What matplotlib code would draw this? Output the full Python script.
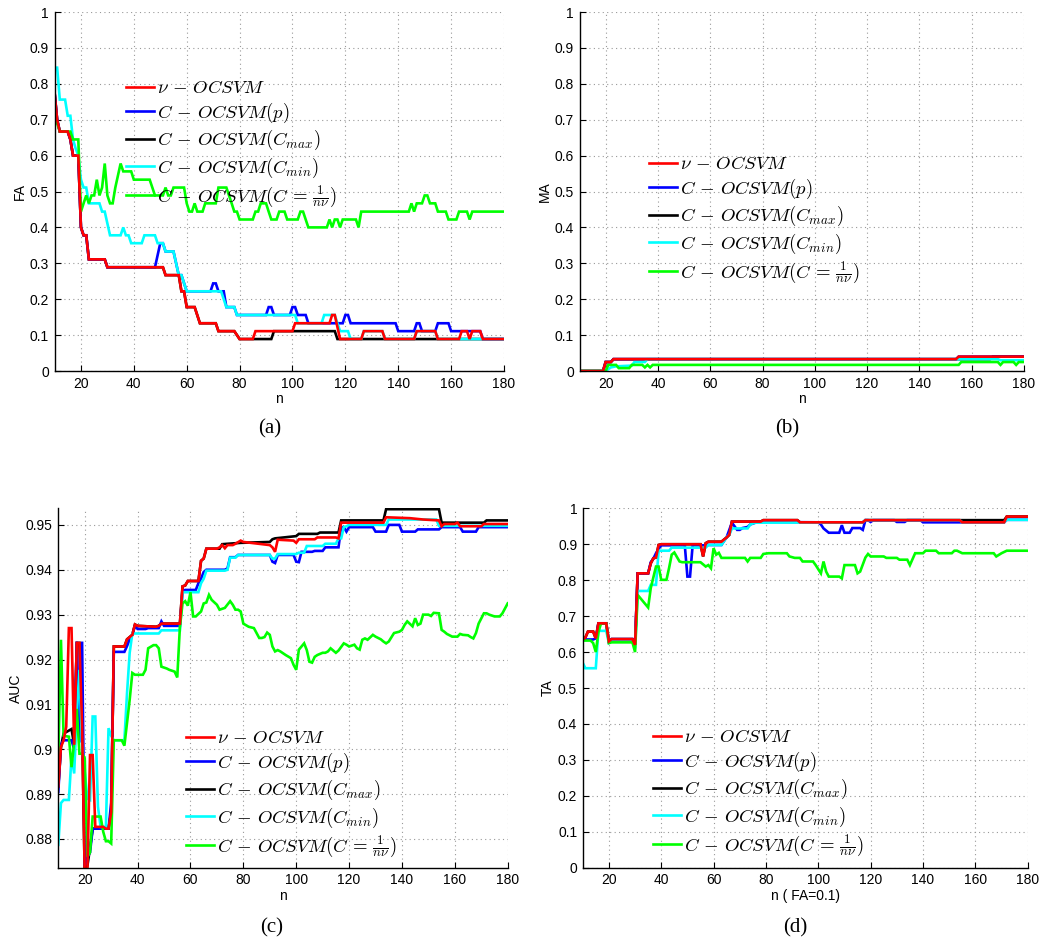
import matplotlib
matplotlib.use('Agg')
import matplotlib.pyplot as plt
from matplotlib.ticker import FuncFormatter

plt.rcParams['mathtext.fontset'] = 'cm'
plt.rcParams['font.family'] = ['Liberation Sans', 'DejaVu Sans']

# ---------------- data (n, value) ----------------
LABELS = [r'$\nu\,-\,OCSVM$', r'$C\,-\,OCSVM(p)$', r'$C\,-\,OCSVM(C_{max})$',
          r'$C\,-\,OCSVM(C_{min})$', r'$C\,-\,OCSVM(C\,=\,\frac{1}{n\nu})$']
COLORS = ['#ff0000', '#0000ff', '#000000', '#00ffff', '#00ff00']
X_TICKS = [20, 40, 60, 80, 100, 120, 140, 160, 180]

# (a) FA
FA_NU = [(10, .778), (11, .70), (12, .667), (15, .667), (16, .645), (17, .60), (19, .60), (20, .40),
         (21, .378), (22, .378), (23, .311), (29, .311), (30, .289), (51, .289), (52, .267), (57, .267),
         (58, .222), (59, .222), (60, .178), (63, .178), (65, .133), (71, .133), (72, .111), (78, .111),
         (80, .089), (85, .089), (86, .111), (100, .111), (101, .133), (114, .133), (115, .156), (116, .156),
         (118, .089), (126, .089), (127, .111), (134, .111), (135, .089), (146, .089), (147, .111), (154, .111),
         (155, .089), (163, .089), (164, .111), (166, .111), (167, .089), (168, .111), (171, .111), (172, .089),
         (180, .089)]
FA_P = [(10, .778), (11, .70), (12, .667), (15, .667), (16, .645), (17, .60), (19, .60), (20, .40),
        (21, .378), (22, .378), (23, .311), (29, .311), (30, .289), (48, .289), (50, .356), (51, .356),
        (52, .333), (55, .333), (57, .267), (58, .267), (60, .222), (69, .222), (70, .244), (71, .244),
        (72, .222), (74, .222), (75, .178), (78, .178), (79, .156), (90, .156), (91, .178), (92, .178),
        (93, .156), (99, .156), (100, .178), (101, .178), (102, .156), (105, .156), (106, .133), (119, .133),
        (120, .156), (121, .156), (122, .133), (139, .133), (140, .111), (146, .111), (147, .133), (148, .133),
        (149, .111), (154, .111), (155, .133), (159, .133), (160, .111), (171, .111), (172, .089), (180, .089)]
FA_CMAX = [(10, .778), (11, .70), (12, .667), (15, .667), (16, .645), (17, .60), (19, .60), (20, .40),
           (21, .378), (22, .378), (23, .311), (29, .311), (30, .289), (51, .289), (52, .267), (57, .267),
           (58, .222), (59, .222), (60, .178), (63, .178), (65, .133), (71, .133), (72, .111), (78, .111),
           (80, .089), (92, .089), (93, .111), (116, .111), (117, .089), (180, .089)]
FA_CMIN = [(10, .845), (11, .845), (12, .756), (14, .756), (15, .711), (16, .711), (17, .645), (18, .62),
           (19, .60), (20, .533), (21, .511), (22, .511), (23, .467), (27, .467), (28, .444), (29, .444),
           (31, .378), (35, .378), (36, .40), (37, .378), (38, .378), (39, .356), (43, .356), (44, .378),
           (48, .378), (49, .356), (51, .356), (52, .333), (55, .333), (57, .267), (58, .267), (60, .222),
           (73, .222), (74, .20), (75, .178), (78, .178), (79, .156), (101, .156), (102, .133), (111, .133),
           (112, .156), (116, .156), (117, .133), (118, .111), (121, .111), (122, .089), (126, .089),
           (127, .111), (134, .111), (135, .089), (146, .089), (147, .111), (154, .111), (155, .089), (180, .089)]
FA_INV = [(10, .72), (11, .69), (12, .667), (16, .667), (17, .645), (19, .645), (20, .444), (21, .467),
          (22, .489), (23, .467), (24, .489), (25, .489), (26, .533), (27, .489), (28, .511), (29, .578),
          (30, .489), (31, .467), (32, .467), (33, .511), (35, .578), (36, .556), (39, .556), (40, .533),
          (46, .533), (47, .511), (48, .489), (51, .489), (52, .511), (53, .489), (54, .489), (55, .511),
          (59, .511), (60, .467), (61, .444), (62, .444), (63, .467), (64, .444), (66, .444), (67, .467),
          (71, .467), (72, .511), (75, .511), (76, .489), (77, .467), (78, .444), (79, .444), (80, .422),
          (85, .422), (86, .444), (87, .444), (88, .467), (90, .467), (91, .444), (92, .422), (94, .422),
          (95, .444), (97, .444), (98, .422), (102, .422), (103, .444), (104, .444), (105, .422), (106, .40),
          (113, .40), (114, .422), (115, .40), (116, .422), (117, .422), (118, .40), (119, .422), (124, .422),
          (125, .40), (126, .444), (144, .444), (145, .467), (146, .444), (147, .467), (149, .467), (150, .489),
          (151, .489), (152, .467), (154, .467), (155, .444), (158, .444), (159, .422), (162, .422), (163, .444),
          (166, .444), (167, .422), (168, .444), (180, .444)]

# (b) MA
MA_NU = [(10, 0), (19, 0), (20, .025), (22, .025), (23, .033), (154, .033), (155, .04), (180, .04)]
MA_P = [(10, 0), (19, 0), (20, .025), (22, .025), (23, .033), (154, .033), (155, .04), (180, .04)]
MA_CMAX = [(10, 0), (19, 0), (20, .025), (22, .025), (23, .033), (167, .033), (168, .04), (180, .04)]
MA_CMIN = [(10, 0), (20, 0), (22, .01), (24, .013), (30, .015), (31, .025), (35, .025), (36, .033),
           (170, .033), (171, .03), (180, .03)]
MA_INV = [(10, 0), (20, 0), (21, .017), (24, .017), (25, .008), (29, .008), (30, .017), (34, .017),
          (35, .01), (36, .017), (37, .01), (38, .017), (155, .017), (156, .025), (170, .025), (171, .017),
          (172, .025), (176, .025), (177, .017), (178, .025), (180, .025)]

# (c) AUC
AUC_NU = [(10, .8917), (11, .9005), (12, .902), (13, .905), (14, .927), (15, .927), (16, .901), (17, .9237),
          (18, .9237), (19, .905), (20, .872), (21, .873), (22, .8987), (23, .8987), (24, .8827), (27, .8827),
          (28, .8823), (29, .8823), (30, .886), (31, .9229), (35, .9229), (36, .9245), (37, .925), (38, .9255),
          (39, .9278), (40, .9275), (47, .9273), (48, .9275), (49, .928), (56, .928), (57, .9363), (58, .9365),
          (59, .9375), (63, .9375), (64, .942), (65, .9425), (66, .9447), (70, .9447), (71, .945), (72, .9455),
          (73, .9448), (74, .9455), (76, .9455), (77, .9458), (79, .9465), (80, .9462), (90, .9455), (91, .945),
          (92, .944), (93, .9467), (99, .9465), (100, .946), (101, .9468), (107, .9468), (108, .9472),
          (115, .9472), (116, .947), (117, .9505), (133, .9505), (134, .9517), (143, .9515), (148, .9512),
          (154, .951), (155, .9497), (156, .9502), (160, .9502), (161, .9505), (162, .9497), (170, .9497),
          (171, .9502), (180, .9502)]
AUC_P = [(10, .8905), (11, .901), (12, .902), (15, .902), (16, .900), (17, .924), (18, .9015), (19, .924),
         (20, .874), (21, .876), (22, .877), (23, .8823), (29, .8823), (30, .888), (31, .9217), (35, .9217),
         (36, .923), (37, .9245), (38, .9255), (39, .9275), (40, .9268), (43, .9268), (44, .927), (48, .927),
         (49, .9285), (50, .9275), (56, .9275), (57, .9353), (58, .9355), (62, .9355), (63, .937), (64, .938),
         (65, .9395), (66, .940), (73, .940), (74, .9403), (75, .9428), (77, .9428), (78, .9433), (90, .9433),
         (91, .9418), (92, .9415), (93, .9433), (99, .9433), (100, .9418), (101, .9417), (102, .944),
         (106, .944), (107, .9442), (110, .9442), (111, .945), (116, .945), (117, .9495), (118, .9495),
         (119, .9485), (120, .9495), (129, .9495), (130, .9485), (134, .9485), (135, .950), (139, .950),
         (140, .9485), (145, .9485), (146, .949), (154, .949), (155, .9495), (162, .9495), (163, .9485),
         (168, .9485), (169, .9495), (180, .9495)]
AUC_CMAX = [(10, .8917), (11, .9005), (12, .9035), (15, .9045), (16, .901), (17, .9237), (18, .9237),
            (19, .905), (20, .872), (21, .874), (22, .878), (23, .8823), (29, .8823), (30, .886), (31, .9229),
            (35, .9229), (36, .9245), (37, .925), (38, .9255), (39, .9278), (40, .9275), (47, .9273),
            (48, .9275), (49, .928), (56, .928), (57, .9363), (58, .9365), (59, .9375), (63, .9375),
            (64, .942), (65, .9425), (66, .9447), (71, .9447), (72, .9457), (79, .946), (90, .9462),
            (91, .9468), (92, .947), (100, .9475), (101, .948), (108, .948), (109, .9483), (116, .9483),
            (117, .951), (133, .951), (134, .9535), (154, .9535), (155, .9505), (171, .9505), (172, .951),
            (180, .951)]
AUC_CMIN = [(10, .8787), (11, .888), (12, .8887), (14, .8887), (15, .8984), (16, .8946), (17, .908),
            (18, .9177), (19, .9003), (20, .895), (21, .889), (22, .8887), (23, .9073), (24, .9073),
            (25, .8872), (26, .8827), (28, .8827), (29, .9047), (30, .903), (31, .902), (35, .902),
            (36, .9125), (37, .9215), (38, .9258), (48, .9258), (49, .9265), (56, .9265), (57, .935),
            (63, .935), (64, .937), (65, .938), (66, .9398), (73, .9398), (74, .940), (75, .9427), (77, .9427),
            (78, .9433), (90, .9433), (91, .9425), (92, .9425), (93, .9435), (100, .9435), (101, .9438),
            (103, .9438), (104, .9453), (110, .9453), (111, .9458), (115, .9458), (116, .947), (117, .947),
            (118, .9495), (119, .9497), (120, .950), (134, .950), (135, .9512), (153, .9512), (154, .9498),
            (180, .9498)]
AUC_INV = [(10, .898), (11, .9244), (12, .903), (14, .9028), (15, .896), (16, .9015), (17, .909), (18, .899),
           (19, .899), (20, .898), (21, .876), (22, .877), (23, .885), (26, .885), (27, .8816), (28, .8795),
           (29, .8795), (30, .879), (31, .902), (34, .902), (35, .9008), (37, .911), (38, .917), (39, .9166),
           (42, .9166), (43, .9177), (44, .9225), (46, .9232), (47, .9232), (48, .9225), (49, .9184),
           (51, .918), (52, .9177), (54, .9173), (55, .916), (56, .9273), (57, .9325), (58, .933), (59, .932),
           (60, .935), (61, .9296), (62, .9296), (64, .9307), (65, .9325), (66, .9327), (67, .9344),
           (68, .9333), (70, .9322), (71, .9311), (73, .9315), (75, .933), (76, .9322), (77, .9311),
           (78, .9311), (79, .9307), (80, .928), (82, .9273), (84, .927), (85, .9259), (86, .9248),
           (87, .9248), (88, .925), (89, .926), (90, .9255), (91, .9229), (92, .9218), (93, .9221),
           (94, .9218), (96, .921), (98, .9203), (99, .9188), (100, .9177), (101, .9222), (103, .9236),
           (104, .9221), (105, .9195), (106, .9193), (107, .9206), (108, .921), (110, .9215), (111, .9215),
           (112, .9218), (113, .9225), (115, .9215), (116, .922), (118, .9236), (119, .9233), (120, .9229),
           (122, .9233), (123, .9225), (124, .9222), (125, .9244), (126, .9247), (127, .9244), (129, .9255),
           (130, .9251), (132, .9245), (133, .924), (134, .9236), (135, .924), (137, .9259), (139, .9262),
           (140, .9266), (141, .9277), (142, .9285), (144, .9274), (145, .9292), (146, .9277), (147, .928),
           (148, .930), (150, .930), (151, .9297), (152, .9304), (154, .9303), (155, .9266), (156, .9262),
           (157, .9257), (159, .9251), (161, .9251), (162, .9257), (163, .9255), (165, .9254), (166, .925),
           (167, .9247), (168, .9259), (169, .928), (171, .9303), (172, .9303), (173, .930), (175, .9296),
           (177, .9296), (178, .9303), (180, .9325)]

# (d) TA
TA_NU = [(10, .635), (11, .64), (12, .657), (14, .657), (15, .638), (16, .68), (19, .68), (20, .63),
         (21, .636), (29, .636), (30, .62), (31, .819), (35, .819), (36, .847), (37, .861), (38, .863),
         (39, .898), (40, .90), (55, .90), (56, .866), (57, .903), (58, .907), (63, .907), (65, .919),
         (66, .926), (67, .963), (78, .963), (79, .967), (92, .967), (93, .961), (117, .961), (118, .967),
         (154, .967), (155, .961), (171, .961), (172, .977), (180, .977)]
TA_P = [(10, .635), (14, .635), (15, .638), (16, .68), (19, .68), (20, .63), (21, .636), (29, .636),
        (30, .62), (31, .819), (35, .819), (36, .85), (37, .86), (38, .875), (39, .887), (40, .897), (49, .897),
        (50, .81), (51, .81), (52, .897), (57, .897), (58, .898), (63, .898), (65, .92), (67, .96), (68, .95),
        (69, .94), (70, .94), (71, .945), (73, .948), (74, .955), (76, .96), (79, .962), (100, .961),
        (101, .955), (102, .944), (104, .932), (108, .932), (109, .953), (110, .932), (112, .932),
        (113, .945), (116, .945), (117, .94), (118, .967), (119, .967), (120, .962), (121, .967), (129, .967),
        (130, .962), (133, .962), (134, .967), (139, .967), (140, .961), (171, .961), (172, .968), (180, .968)]
TA_CMAX = [(10, .635), (11, .64), (12, .657), (14, .657), (15, .638), (16, .68), (19, .68), (20, .63),
           (21, .636), (29, .636), (30, .62), (31, .819), (35, .819), (36, .847), (37, .861), (38, .863),
           (39, .898), (40, .90), (55, .90), (56, .866), (57, .903), (58, .907), (63, .907), (65, .919),
           (66, .926), (67, .963), (78, .963), (79, .967), (92, .967), (93, .961), (117, .961), (118, .967),
           (171, .967), (172, .977), (180, .977)]
TA_CMIN = [(10, .5705), (11, .555), (15, .555), (16, .659), (19, .659), (20, .625), (21, .629), (29, .629),
           (30, .61), (31, .77), (35, .77), (36, .787), (38, .787), (39, .882), (43, .882), (44, .8905),
           (57, .8905), (58, .898), (63, .898), (65, .92), (66, .926), (67, .944), (73, .944), (74, .955),
           (75, .958), (76, .96), (117, .961), (118, .967), (154, .967), (155, .961), (171, .961), (172, .968),
           (180, .968)]
TA_INV = [(10, .632), (13, .632), (14, .625), (15, .60), (16, .655), (17, .68), (19, .68), (20, .625),
          (21, .627), (29, .627), (30, .60), (31, .759), (35, .724), (36, .778), (38, .838), (39, .838),
          (40, .801), (42, .801), (43, .834), (44, .871), (45, .877), (47, .852), (48, .85), (55, .85),
          (57, .838), (58, .842), (59, .833), (60, .889), (61, .871), (62, .876), (63, .862), (72, .862),
          (73, .852), (74, .862), (78, .862), (79, .873), (81, .875), (88, .875), (89, .866), (91, .862),
          (93, .862), (94, .852), (98, .852), (99, .842), (101, .819), (102, .852), (103, .824), (104, .81),
          (108, .81), (109, .805), (110, .842), (114, .842), (115, .819), (116, .824), (118, .863),
          (119, .873), (120, .866), (125, .866), (126, .862), (130, .862), (131, .857), (134, .857),
          (135, .842), (137, .875), (140, .875), (141, .882), (145, .882), (146, .875), (151, .875),
          (152, .882), (153, .882), (155, .875), (167, .875), (168, .866), (170, .875), (172, .882),
          (180, .882)]

# ---------------- figure ----------------
W, H = 1056, 941
fig = plt.figure(figsize=(W / 100, H / 100), dpi=100)


def add_ax(l, r, t, b):
    return fig.add_axes([l / W, 1 - b / H, (r - l) / W, (b - t) / H])


fmt = FuncFormatter(lambda v, p: ('%g' % round(v, 4)))


def panel(ax, series, ylim, yticks, xlabel, ylabel, leg_xy, caption, cap_xy):
    # draw order: Cmax, p, Cmin, 1/(n nu), nu  (nu on top)
    order = [2, 1, 3, 4, 0]
    handles = [None] * 5
    for i in order:
        xs, ys = zip(*series[i])
        h, = ax.plot(xs, ys, color=COLORS[i], lw=1.9, solid_joinstyle='miter')
        handles[i] = h
    ax.set_xlim(10, 180)
    ax.set_ylim(*ylim)
    ax.set_xticks(X_TICKS)
    ax.set_yticks(yticks)
    ax.yaxis.set_major_formatter(fmt)
    ax.grid(True, linestyle=(0, (1, 3)), color='#999999', linewidth=0.8)
    ax.set_axisbelow(True)
    for s in ['top', 'right']:
        ax.spines[s].set_visible(False)
    for s in ['left', 'bottom']:
        ax.spines[s].set_linewidth(1.0)
    ax.tick_params(direction='in', length=4, labelsize=10, pad=4)
    ax.set_xlabel(xlabel, fontsize=10, labelpad=1)
    ax.set_ylabel(ylabel, fontsize=10, labelpad=2)
    ax.legend(handles, LABELS, loc='upper left',
              bbox_to_anchor=(leg_xy[0] / W, 1 - leg_xy[1] / H),
              bbox_transform=fig.transFigure, frameon=False, fontsize=13.5,
              handlelength=1.5, handletextpad=0.15, labelspacing=0.18,
              borderpad=0, borderaxespad=0)
    fig.text(cap_xy[0] / W, 1 - cap_xy[1] / H, caption, ha='center', va='center',
             fontsize=15, family='Liberation Serif')


axA = add_ax(54.5, 504, 12, 371)
panel(axA, [FA_NU, FA_P, FA_CMAX, FA_CMIN, FA_INV], (0, 1),
      [i / 10 for i in range(11)], 'n', 'FA', (126, 80), '(a)', (270, 429))

axB = add_ax(579.5, 1024, 12, 371)
panel(axB, [MA_NU, MA_P, MA_CMAX, MA_CMIN, MA_INV], (0, 1),
      [i / 10 for i in range(11)], 'n', 'MA', (649, 156), '(b)', (787, 429))

axC = add_ax(58.3, 507.7, 508.3, 867.7)
panel(axC, [AUC_NU, AUC_P, AUC_CMAX, AUC_CMIN, AUC_INV], (0.8736, 0.9537),
      [0.88, 0.89, 0.90, 0.91, 0.92, 0.93, 0.94, 0.95], 'n', 'AUC', (186, 730), '(c)', (272, 928))

axD = add_ax(582.7, 1027.7, 508.3, 867.7)
panel(axD, [TA_NU, TA_P, TA_CMAX, TA_CMIN, TA_INV], (0, 1),
      [i / 10 for i in range(11)], 'n ( FA=0.1)', 'TA', (653, 729), '(d)', (795, 928))

fig.savefig('out.png', dpi=100)
